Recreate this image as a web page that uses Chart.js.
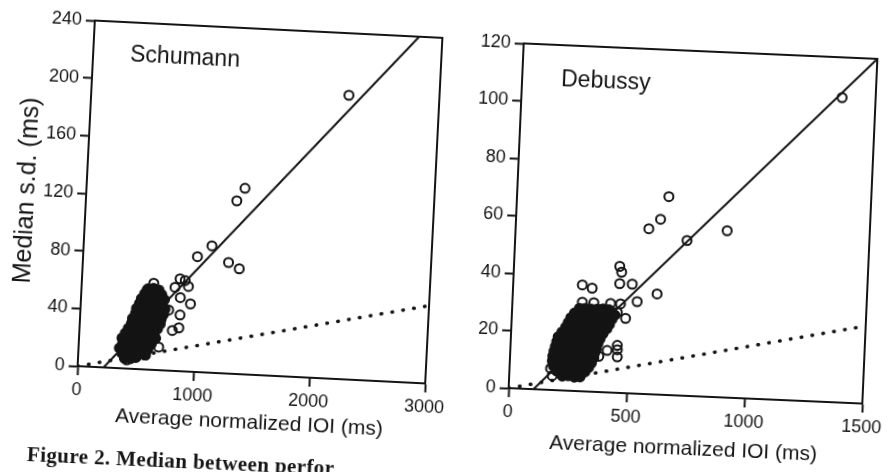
<!DOCTYPE html>
<html>
<head>
<meta charset="utf-8">
<script src="https://cdn.jsdelivr.net/npm/chart.js@4.4.1/dist/chart.umd.min.js"></script>
<style>
  html, body { margin: 0; padding: 0; background: #fff; }
  body { width: 889px; height: 472px; overflow: hidden; position: relative; }
  .panel { position: absolute; }
  .panel canvas { display: block; }
  /* the scan is tilted a little clockwise; each panel turns about its plot centre */
  #wrap-schu { left: 0; top: -1.5px; transform-origin: 260px 203px; transform: rotate(2.85deg); }
  #wrap-deb { left: 461px; top: 21px; transform-origin: 232px 202.5px; transform: rotate(2.5deg); }
  #caption {
    position: absolute; left: 27px; top: 442px; white-space: nowrap;
    font: bold 21px "Liberation Serif", "DejaVu Serif", serif; color: #151515;
    transform-origin: 0 50%; transform: rotate(2.6deg); letter-spacing: 0.4px;
  }
</style>
</head>
<body>
<div class="panel" id="wrap-schu"><canvas id="schu" width="459" height="446"></canvas></div>
<div class="panel" id="wrap-deb"><canvas id="deb" width="434" height="445"></canvas></div>
<div id="caption">Figure 2. Median between perfor</div>
<script>
// ---- data (x = average normalized IOI ms, y = median s.d. ms) ----
const schumannXTicks = [0, 1000, 2000, 3000];
const schumannYTicks = [0, 40, 80, 120, 160, 200, 240];
const debussyXTicks = [0, 500, 1000, 1500];
const debussyYTicks = [0, 20, 40, 60, 80, 100, 120];

// dense core of the Schumann cloud (so many overlapping circles it prints solid)
const schumannCluster = [
  [400,7],[452,7],[498,8],
  [375,10.5],[428,10],[474,11],[526,10.5],[572,10],
  [352,14],[402,14],[448,13.5],[500,14],[552,14.5],[598,14],
  [378,17.5],[425,17],[476,18],[524,17.5],[575,17],[626,18],
  [370,21],[420,21],[470,21.5],[520,21],[570,20.5],[620,21],[660,22],
  [396,24.5],[445,24],[495,25],[545,24.5],[596,24],[646,25],
  [420,28],[470,28.5],[520,28],[570,27.5],[620,28],[672,28.5],
  [445,31.5],[494,31],[545,32],[596,31.5],[645,31],[694,32],
  [452,35],[500,35.5],[550,35],[600,34.5],[650,35],[700,35.5],
  [476,38.5],[525,38],[575,39],[626,38.5],[675,38],[718,39],
  [482,42],[530,42.5],[580,42],[630,41.5],[680,42],[728,42.5],
  [505,45.5],[556,45],[605,46],[655,45.5],[704,45],
  [520,49],[570,49.5],[620,49],[670,48.5],[720,49],
  [546,52.5],[596,52],[645,53],[694,52.5],
  [572,56],[620,56.5],[668,55.5]
];
// open circles around and above the Schumann core
const schumannOutliers = [
  [420,6],[580,10],[690,16],[565,55],[620,60],[760,42],[800,28],[855,30],
  [860,39],[855,51],[805,58],[845,64],[890,63],[920,59],[945,47],
  [985,80],[1105,88],[1255,77],[1350,73],[1300,120],[1365,129],[2220,197]
];
// fitted line and the dotted reference line (end points)
const schumannFitX = [224, 2800];
const schumannFitY = [0, 240];
const schumannRefX = [0, 3000];
const schumannRefY = [0, 54];

const debussyCluster = [
  [225,5],[250,5.2],[276,4.8],[300,5],
  [200,6.7],[225,6.5],[250,7],[274,6.7],[298,6.5],[320,6.8],
  [185,8.4],[210,8.2],[235,8.6],[260,8.4],[285,8.2],[310,8.5],[335,8.4],
  [180,10.1],[205,10.3],[230,10],[255,10.2],[280,10.1],[305,9.9],[330,10.2],[346,10],
  [181,11.8],[205,11.6],[230,12],[255,11.8],[280,11.7],[305,12],[330,11.8],[355,11.9],
  [185,13.5],[210,13.7],[235,13.4],[260,13.5],[285,13.6],[310,13.4],[335,13.6],[358,13.5],
  [190,15.2],[215,15],[240,15.3],[265,15.2],[290,15.1],[315,15.3],[340,15.2],[365,15],
  [195,16.9],[220,17.1],[245,16.8],[270,16.9],[295,17],[320,16.8],[345,17],[370,16.9],
  [200,18.6],[225,18.5],[250,18.7],[275,18.6],[300,18.4],[325,18.6],[350,18.7],[378,18.5],
  [215,20.3],[240,20.4],[265,20.2],[290,20.3],[315,20.5],[340,20.3],[365,20.2],[390,20.4],
  [230,22],[255,22.1],[280,21.9],[305,22],[330,22.2],[355,22],[380,21.9],[405,22.1],
  [240,23.7],[265,23.6],[290,23.8],[315,23.7],[340,23.6],[365,23.8],[390,23.7],[415,23.6],
  [250,25.4],[275,25.5],[300,25.3],[325,25.4],[350,25.6],[375,25.4],[400,25.3],[425,25.5],
  [265,27.1],[290,27],[315,27.2],[340,27.1],[365,26.9],[390,27.1],[415,27.2],[436,27],
  [285,28.8],[310,28.9],[335,28.7],[360,28.8],[385,29],[410,28.8]
];
const debussyOutliers = [
  [174,7.5],[182,5],[302,5.6],[315,8.5],[376,12.4],[410,14.6],[453,15],[452,16.5],[454,12.5],
  [482,26],[446,28],[296,31],[345,31],[416,31],[458,31],[528,32],[293,37],[335,36],
  [451,38],[504,38],[611,35],[457,42],[448,44],[728,54],[564,57.5],[612,61],[643,69],
  [896,58],[1358,106]
];
const debussyFitX = [105, 1500];
const debussyFitY = [0, 120];
const debussyRefX = [0, 1500];
const debussyRefY = [0, 27];

// ---- drawing ----
const INK = "#141414";
const SANS = '"Liberation Sans", Arial, Helvetica, sans-serif';
const pts = (arr) => arr.map((p) => ({ x: p[0], y: p[1] }));
const seg = (xs, ys) => xs.map((x, i) => ({ x: x, y: ys[i] }));

// full box round the plot + the panel name inside it
const framePlugin = {
  id: "frame",
  afterDatasetsDraw(chart, args, opts) {
    const { ctx, chartArea: a } = chart;
    ctx.save();
    ctx.strokeStyle = INK;
    ctx.lineWidth = 2;
    ctx.strokeRect(a.left, a.top, a.width, a.height);
    ctx.fillStyle = INK;
    ctx.font = "23px " + SANS;
    ctx.textBaseline = "top";
    ctx.fillText(opts.label, a.left + opts.dx, a.top + opts.dy);
    ctx.restore();
  },
};

function axis(min, max, ticks, extra) {
  return Object.assign({
    type: "linear", min: min, max: max,
    afterBuildTicks: (s) => { s.ticks = ticks.map((v) => ({ value: v })); },
    ticks: { color: INK, font: { family: SANS, size: 18 }, padding: 4, autoSkip: false, maxRotation: 0,
             callback: (v) => String(v) },  // plain "1000", no thousands comma
    grid: { drawOnChartArea: false, drawTicks: true, tickLength: 9, tickColor: INK, tickWidth: 2, color: INK },
    border: { display: true, color: INK, width: 2 },
  }, extra);
}

function makeChart(id, cfg) {
  return new Chart(document.getElementById(id), {
    type: "scatter",
    data: { datasets: [
      { data: seg(cfg.refX, cfg.refY), showLine: true, pointRadius: 0, borderColor: INK, borderWidth: 3.5,
        borderDash: [0.5, 10.5], borderCapStyle: "round", fill: false },
      { data: seg(cfg.fitX, cfg.fitY), showLine: true, pointRadius: 0, borderColor: INK, borderWidth: 2, fill: false },
      // the core prints as a solid blot, so its circles are inked through
      { data: pts(cfg.cluster), pointRadius: 4.5, borderWidth: 2, borderColor: INK, backgroundColor: INK },
      { data: pts(cfg.outliers), pointRadius: 4.5, borderWidth: 2, borderColor: INK, backgroundColor: "rgba(0,0,0,0)" },
    ] },
    options: {
      responsive: false, animation: false,
      layout: { autoPadding: false, padding: cfg.padding },
      plugins: { legend: { display: false }, tooltip: { enabled: false }, frame: cfg.frame },
      scales: {
        x: axis(0, cfg.xMax, cfg.xTicks, {
          afterFit: (s) => { s.height = 70; },
          title: { display: true, text: "Average normalized IOI (ms)", color: INK,
                   font: { family: SANS, size: 21 }, padding: { top: 0, bottom: cfg.xTitlePad } },
        }),
        y: axis(0, cfg.yMax, cfg.yTicks, {
          afterFit: (s) => { s.width = cfg.yWidth; },
          title: cfg.yTitle,
        }),
      },
    },
    plugins: [framePlugin],
  });
}

makeChart("schu", {
  cluster: schumannCluster, outliers: schumannOutliers,
  fitX: schumannFitX, fitY: schumannFitY, refX: schumannRefX, refY: schumannRefY,
  xMax: 3000, yMax: 240, xTicks: schumannXTicks, yTicks: schumannYTicks,
  padding: { top: 30, right: 25, left: 0, bottom: 0 }, yWidth: 86, xTitlePad: 9,
  yTitle: { display: true, text: "Median s.d. (ms)", color: INK,
            font: { family: SANS, size: 25 }, padding: { top: 12, bottom: 0 } },
  frame: { label: "Schumann", dx: 37, dy: 21 },
});

makeChart("deb", {
  cluster: debussyCluster, outliers: debussyOutliers,
  fitX: debussyFitX, fitY: debussyFitY, refX: debussyRefX, refY: debussyRefY,
  xMax: 1500, yMax: 120, xTicks: debussyXTicks, yTicks: debussyYTicks,
  padding: { top: 30, right: 25, left: 0, bottom: 0 }, yWidth: 55, xTitlePad: 4,
  yTitle: { display: false },
  frame: { label: "Debussy", dx: 39, dy: 23 },
});
</script>
</body>
</html>
